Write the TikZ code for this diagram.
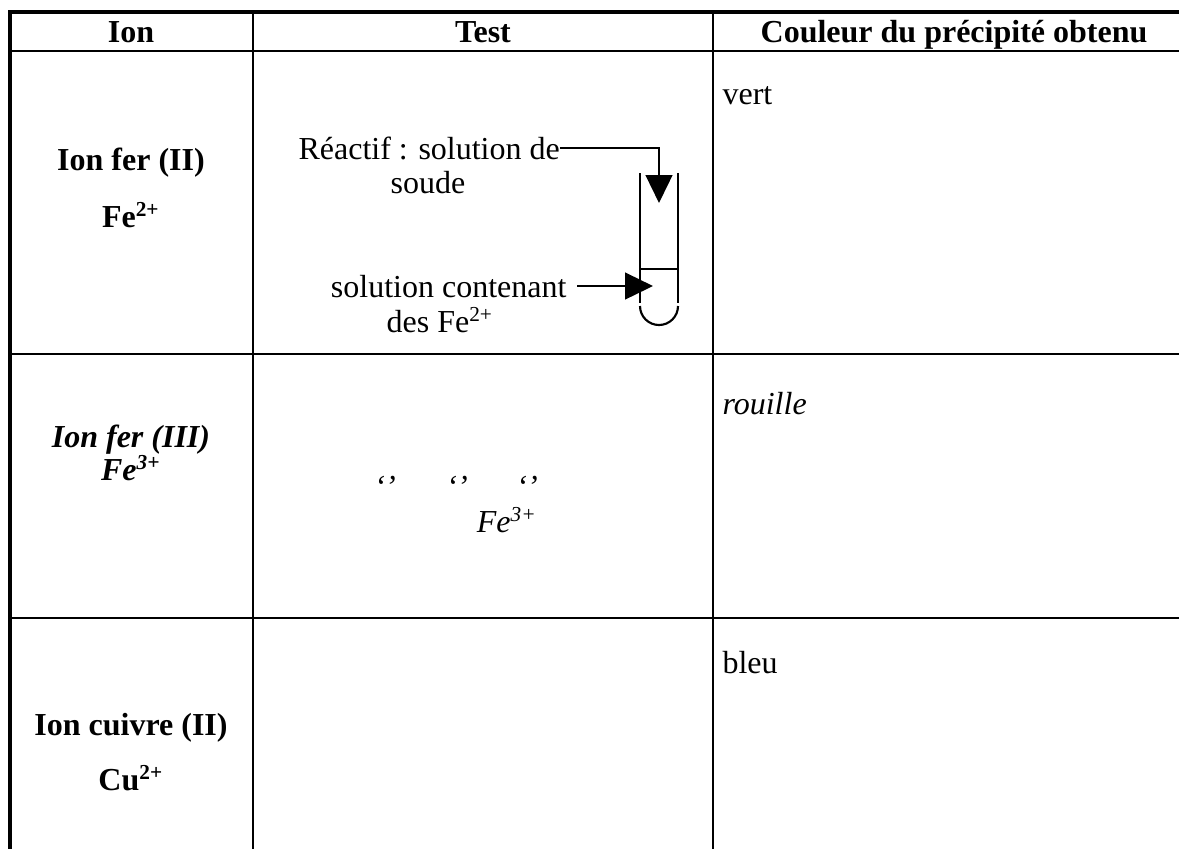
\documentclass[tikz,border=0pt]{standalone}
\usepackage{fontspec}
\setmainfont{Liberation Serif}
\usetikzlibrary{arrows.meta}
\begin{document}
\begin{tikzpicture}[x=0.375pt,y=-0.375pt,
  txt/.style={inner sep=0pt,font=\fontsize{12}{14}\selectfont},
  btxt/.style={txt,font=\fontsize{12}{14}\selectfont\bfseries},
  bitxt/.style={txt,font=\fontsize{12}{14}\selectfont\bfseries\itshape},
  itxt/.style={txt,font=\fontsize{12}{14}\selectfont\itshape},
  rule/.style={line width=0.95pt},
  thick rule/.style={line width=1.45pt},
  tube/.style={line width=0.8pt},
  conn/.style={line width=0.95pt,-{Triangle[length=10.5pt,width=10pt]}}]
\useasboundingbox (0,0) rectangle (1179,849);
% table lines
\draw[thick rule] (8,12) -- (1179,12);
\draw[thick rule] (10,10) -- (10,849);
\draw[rule] (10,51) -- (1179,51);
\draw[rule] (10,354) -- (1179,354);
\draw[rule] (10,618) -- (1179,618);
\draw[rule] (253,12) -- (253,849);
\draw[rule] (713,12) -- (713,849);
% header
\node[btxt,anchor=base] (hion) at (131,42) {Ion};
\node[btxt,anchor=base] (htest) at (483,42) {Test};
\node[btxt,anchor=base] (hcol) at (954,42) {Couleur du précipité obtenu};
% row 1
\node[btxt] (ion1) at (131,163) {Ion fer (II)};
\node[btxt] (fe2) at (131,215) {Fe\textsuperscript{2+}};
\node[txt,anchor=west] (vert) at (722,96) {vert};
\node[txt,anchor=west] (reac) at (298,148) {Réactif : solution de};
\node[txt] (soude) at (428,183) {soude};
\node[txt,anchor=east] (solc) at (567,287) {solution contenant};
\node[txt] (desfe) at (440,320) {des Fe\textsuperscript{2+}};
% test tube
\coordinate (tl) at (640,173);
\coordinate (tr) at (678,173);
\coordinate (bl) at (640,303);
\coordinate (br) at (678,303);
\draw[tube] (tl) -- (bl);
\draw[tube] (tr) -- (br);
\draw[tube] (640,306) arc[start angle=180,end angle=0,radius=19];
\draw[tube] (640,269) -- (678,269);
\coordinate (corner) at (659,148);
\coordinate (tip1) at (659,203);
\coordinate (tip2) at (653,286);
\coordinate (start2) at (577,286);
\draw[conn] (reac.east |- corner) -- (corner) -- (tip1);
\draw[conn] (start2) -- (tip2);
% row 2
\node[bitxt] (ion2) at (131,440) {Ion fer (III)};
\node[bitxt] (fe3) at (131,468) {Fe\textsuperscript{3+}};
\node[itxt,anchor=west] (rouille) at (722,404) {rouille};
\node[itxt] (q1) at (385,487) {‘’};
\node[itxt] (q2) at (457,487) {‘’};
\node[itxt] (q3) at (527,487) {‘’};
\node[itxt] (fe3b) at (507,520) {Fe\textsuperscript{3+}};
% row 3
\node[txt,anchor=west] (bleu) at (722,663) {bleu};
\node[btxt] (ion3) at (131,728) {Ion cuivre (II)};
\node[btxt] (cu2) at (131,778) {Cu\textsuperscript{2+}};
\end{tikzpicture}
\end{document}
